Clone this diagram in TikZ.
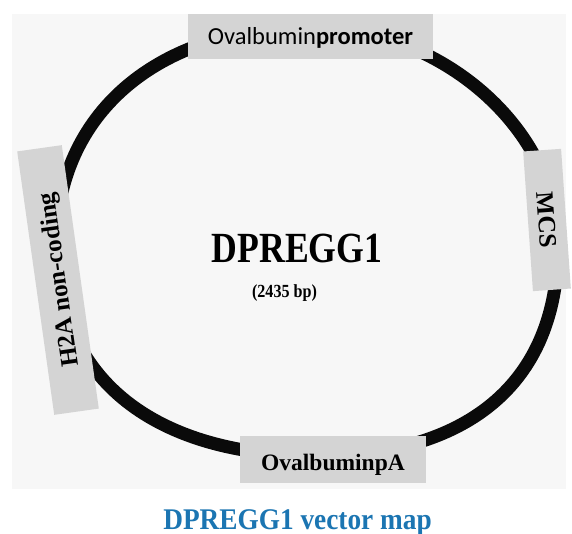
\documentclass[tikz,border=0pt]{standalone}
\usepackage{fontspec}
\setmainfont{Liberation Serif}
\newfontfamily\labelsans{Carlito}
\definecolor{ringblack}{HTML}{0A0A0A}
\definecolor{boxgray}{HTML}{D4D4D4}
\definecolor{panelbg}{HTML}{F7F7F7}
\definecolor{captionblue}{HTML}{1B75B2}
\begin{document}
\begin{tikzpicture}[x=1pt,y=-1pt,
  feature/.style={fill=boxgray, draw=none, inner sep=0pt},
  ring/.style={draw=ringblack, line width=13pt},
  title/.style={anchor=base, font=\bfseries\fontsize{#1}{#1}\selectfont}]
\useasboundingbox (0,0) rectangle (572,534);
% panel behind the plasmid map
\fill[panelbg] (12,14) rectangle (566,489);
% extreme points of the plasmid backbone
\coordinate (ringT) at (310,27);
\coordinate (ringR) at (558,245);
\coordinate (ringB) at (318,456);
\coordinate (ringL) at (56,245);
% plasmid backbone, one Bezier quarter per quadrant
\draw[ring] (ringT)
  .. controls (441.4,27) and (558,129.5) .. (ringR)
  .. controls (558,397) and (450,456) .. (ringB)
  .. controls (155.6,456) and (56,380) .. (ringL)
  .. controls (56,114.2) and (157.6,27) .. (ringT) -- cycle;
% feature boxes
\node[feature, minimum width=245pt, minimum height=45pt,
      text height=22pt, text depth=5pt,
      font=\labelsans\fontsize{24.5}{24.5}\selectfont]
  (promoter) at (310.5,36.5) {Ovalbumin\textbf{promoter}};
\node[feature, rotate=98, minimum width=266pt, minimum height=45pt,
      text height=16.5pt, text depth=0pt,
      font=\bfseries\fontsize{25}{25}\selectfont]
  (h2a) at (58,280) {H2A non-coding};
\node[feature, rotate=-86, minimum width=140pt, minimum height=38pt,
      text height=16.5pt, text depth=0pt,
      font=\bfseries\fontsize{25}{25}\selectfont]
  (mcs) at (547,220) {MCS};
\node[feature, minimum width=186pt, minimum height=47pt,
      text height=21pt, text depth=0pt,
      font=\bfseries\fontsize{23.5}{23.5}\selectfont]
  (polyA) at (333,459.5) {OvalbuminpA};
% plasmid name and size
\node[title=43] (name) at (297,262) {\scalebox{0.83}[1]{DPREGG1}};
\node[title=18.5] (size) at (284.5,297) {\scalebox{0.87}[1]{(2435 bp)}};
% caption
\node[title=30, text=captionblue] (caption) at (297.5,529)
  {\scalebox{0.91}[1]{DPREGG1 vector map}};
\end{tikzpicture}
\end{document}
